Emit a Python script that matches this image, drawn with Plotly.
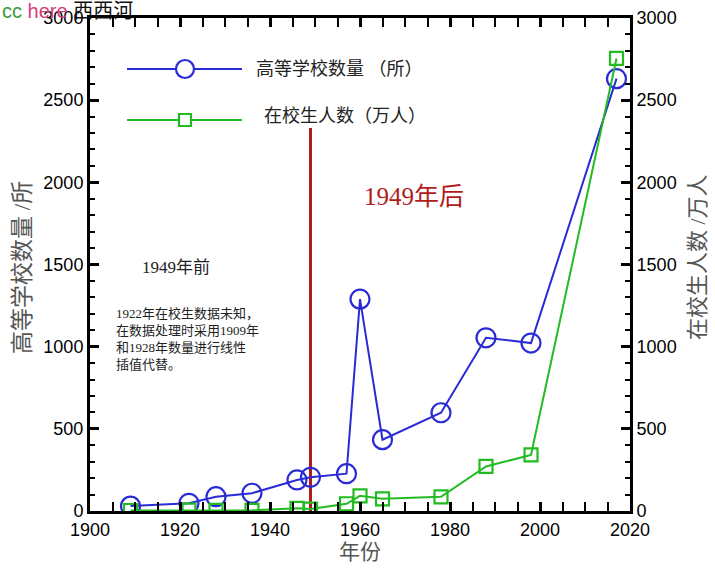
import plotly.graph_objects as go

years = [1909, 1922, 1928, 1936, 1946, 1949, 1957, 1960, 1965, 1978, 1988, 1998, 2017]
colleges = [30, 47, 87, 108, 189, 205, 227, 1289, 434, 598, 1054, 1022, 2631]
students = [3, 5, 4, 4, 16, 12, 44, 92, 74, 86, 271, 341, 2754]
divider_year = 1949
divider_top = 2330

name_colleges = "高等学校数量 （所）"
name_students = "在校生人数（万人）"

blue = "#2b2bd6"
green = "#22bb22"
red = "#b01c1c"
gray = "#555555"
cjk_serif = "Liberation Serif, Noto Sans CJK SC, serif"
sans = "Liberation Sans, Arial, Noto Sans CJK SC, sans-serif"

fig = go.Figure()
fig.add_trace(go.Scatter(
    x=[divider_year, divider_year], y=[0, divider_top], mode="lines",
    line=dict(color=red, width=3), showlegend=False, hoverinfo="skip"))
fig.add_trace(go.Scatter(
    x=years, y=colleges, name=name_colleges, mode="lines+markers",
    line=dict(color=blue, width=2),
    marker=dict(symbol="circle-open", size=19, color=blue, line=dict(width=2.2)),
    showlegend=False))
fig.add_trace(go.Scatter(
    x=years, y=students, name=name_students, mode="lines+markers", yaxis="y2",
    line=dict(color=green, width=2),
    marker=dict(symbol="square-open", size=13, color=green, line=dict(width=2.2)),
    showlegend=False))

L, R, T, B = 90, 85, 18, 60
W, H = 715, 571
pw, ph = W - L - R, H - T - B


def px(x):
    return (x - L) / pw


def py(y):
    return (H - B - y) / ph


shapes = [
    dict(type="line", xref="paper", yref="paper", x0=px(127), x1=px(242), y0=py(69), y1=py(69),
         line=dict(color=blue, width=2)),
    dict(type="circle", xref="paper", yref="paper", x0=px(176), x1=px(194), y0=py(78), y1=py(60),
         line=dict(color=blue, width=2.2), fillcolor="white"),
    dict(type="line", xref="paper", yref="paper", x0=px(127), x1=px(242), y0=py(120), y1=py(120),
         line=dict(color=green, width=2)),
    dict(type="rect", xref="paper", yref="paper", x0=px(179), x1=px(191), y0=py(126), y1=py(114),
         line=dict(color=green, width=2.2), fillcolor="white"),
]

annotations = [
    dict(xref="paper", yref="paper", x=px(254), y=py(69), xanchor="left", yanchor="middle",
         text=name_colleges, showarrow=False, font=dict(family=cjk_serif, size=18, color="#222")),
    dict(xref="paper", yref="paper", x=px(262), y=py(116), xanchor="left", yanchor="middle",
         text=name_students, showarrow=False, font=dict(family=cjk_serif, size=18, color="#222")),
    dict(xref="paper", yref="paper", x=px(140), y=py(267), xanchor="left", yanchor="middle",
         text="1949年前", showarrow=False, font=dict(family=cjk_serif, size=17, color="#222")),
    dict(xref="paper", yref="paper", x=px(114), y=py(339), xanchor="left", yanchor="middle", align="left",
         text="1922年在校生数据未知，<br>在数据处理时采用1909年<br>和1928年数量进行线性<br>插值代替。",
         showarrow=False, font=dict(family=cjk_serif, size=13, color="#222")),
    dict(xref="paper", yref="paper", x=px(362), y=py(196), xanchor="left", yanchor="middle",
         text="1949年后", showarrow=False, font=dict(family=cjk_serif, size=25, color=red)),
    dict(xref="paper", yref="paper", x=px(22), y=py(268), xanchor="center", yanchor="middle",
         text="高等学校数量 /所", textangle=-90, showarrow=False,
         font=dict(family=cjk_serif, size=23, color=gray)),
    dict(xref="paper", yref="paper", x=px(697), y=py(257), xanchor="center", yanchor="middle",
         text="在校生人数 /万人", textangle=-90, showarrow=False,
         font=dict(family=cjk_serif, size=22, color=gray)),
    dict(xref="paper", yref="paper", x=px(360), y=py(552), xanchor="center", yanchor="middle",
         text="年份", showarrow=False, font=dict(family=cjk_serif, size=21, color=gray)),
    dict(xref="paper", yref="paper", x=px(0), y=py(11), xanchor="left", yanchor="middle",
         text="<span style='color:#3a9a3a'>cc</span> <span style='color:#d0407a'>here</span> <span style='color:#111'>西西河</span>",
         showarrow=False, font=dict(family=sans, size=20)),
]

axis_common = dict(
    showline=True, linecolor="black", linewidth=3, showgrid=False, zeroline=False,
    ticks="inside", ticklen=9, tickwidth=3, tickcolor="black", automargin=False,
    tickfont=dict(family=sans, size=18, color="black"),
)

fig.update_layout(
    width=W, height=H, margin=dict(l=L, r=R, t=T, b=B),
    paper_bgcolor="white", plot_bgcolor="white",
    xaxis=dict(range=[1900, 2020], dtick=20, tick0=1900, mirror="allticks",
               minor=dict(dtick=5, ticks="inside", ticklen=5, tickwidth=1.5, tickcolor="black"),
               **axis_common),
    yaxis=dict(range=[0, 3000], dtick=500,
               minor=dict(dtick=100, ticks="inside", ticklen=5, tickwidth=1.5, tickcolor="black"),
               **axis_common),
    yaxis2=dict(range=[0, 3000], dtick=500, overlaying="y", side="right",
                minor=dict(dtick=100, ticks="inside", ticklen=5, tickwidth=1.5, tickcolor="black"),
                **axis_common),
    shapes=shapes, annotations=annotations, showlegend=False,
)

fig.write_html("out.html", config={"displayModeBar": False},
               post_script="document.body.style.margin='0';document.body.style.overflow='hidden';")
